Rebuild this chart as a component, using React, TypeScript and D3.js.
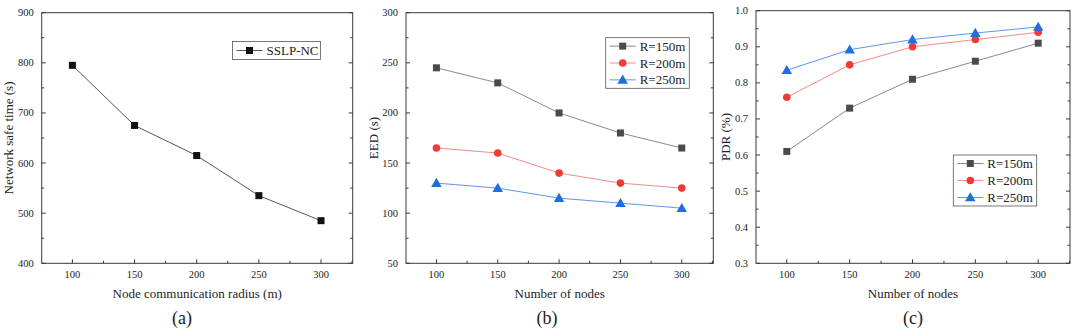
import React from "react";
import * as d3 from "d3";

const xValues = [100, 150, 200, 250, 300];
const xTicks = [100, 150, 200, 250, 300];

const safeTime = [795, 675, 615, 535, 485];
const safeTicks = [400, 500, 600, 700, 800, 900];

const eed150 = [245, 230, 200, 180, 165];
const eed200 = [165, 160, 140, 130, 125];
const eed250 = [130, 125, 115, 110, 105];
const eedTicks = [50, 100, 150, 200, 250, 300];

const pdr150 = [0.61, 0.73, 0.81, 0.86, 0.91];
const pdr200 = [0.76, 0.85, 0.9, 0.92, 0.94];
const pdr250 = [0.835, 0.892, 0.92, 0.938, 0.955];
const pdrTicks = [0.3, 0.4, 0.5, 0.6, 0.7, 0.8, 0.9, 1.0];

const seriesNames = ["R=150m", "R=200m", "R=250m"];

type Series = { name: string; values: number[]; marker: string; fill: string; line: string; size?: number };

const FONT = "'Liberation Serif', 'Times New Roman', serif";

function Marker({ type, x, y, fill, size = 7 }: { type: string; x: number; y: number; fill: string; size?: number }) {
  if (type === "square") return <rect x={x - size / 2} y={y - size / 2} width={size} height={size} fill={fill} />;
  if (type === "circle") return <circle cx={x} cy={y} r={size / 2 + 0.3} fill={fill} />;
  const p = d3.symbol(d3.symbolTriangle, size * size * 0.75)();
  return <path d={p || ""} transform={`translate(${x},${y + 0.8})`} fill={fill} />;
}

function Panel(props: {
  left: number; right: number; top: number; bottom: number;
  xDomain: [number, number]; yDomain: [number, number];
  yTicks: number[]; yFmt: (v: number) => string;
  series: Series[]; xTitle: string; yTitle: string; yTitleX: number; label: string; labelX: number;
  legend: { x: number; y: number; w: number; h: number };
}) {
  const { left, right, top, bottom, xDomain, yDomain, yTicks, yFmt, series, xTitle, yTitle, yTitleX, label, labelX, legend } = props;
  const x = d3.scaleLinear().domain(xDomain).range([left, right]);
  const y = d3.scaleLinear().domain(yDomain).range([bottom, top]);
  const xMinor = d3.range(xTicks[0] - 25, xTicks[xTicks.length - 1] + 26, 50).filter((v) => v > xDomain[0] && v < xDomain[1]);
  const yStep = yTicks[1] - yTicks[0];
  const yMinor = yTicks.slice(0, -1).map((v) => v + yStep / 2);
  const frame = "#3a3a3a";
  const line = d3.line<number>().x((_, i) => x(xValues[i])).y((v) => y(v));
  const rowH = legend.h / series.length;
  return (
    <g>
      {series.map((s) => (
        <path key={s.name + "l"} d={line(s.values) || ""} fill="none" stroke={s.line} strokeWidth={1} />
      ))}
      {series.map((s) =>
        s.values.map((v, i) => (
          <Marker key={s.name + i} type={s.marker} x={x(xValues[i])} y={y(v)} fill={s.fill} size={s.size} />
        ))
      )}
      <rect x={left} y={top} width={right - left} height={bottom - top} fill="none" stroke={frame} strokeWidth={1} />
      {xTicks.map((t) => (
        <g key={"xt" + t}>
          <line x1={x(t)} x2={x(t)} y1={bottom} y2={bottom - 4} stroke={frame} />
          <text x={x(t)} y={bottom + 15} textAnchor="middle" fontSize={10.5} fontFamily={FONT} fill="#222">{t}</text>
        </g>
      ))}
      {xMinor.map((t) => (
        <line key={"xm" + t} x1={x(t)} x2={x(t)} y1={bottom} y2={bottom - 2.5} stroke={frame} />
      ))}
      {yTicks.map((t) => (
        <g key={"yt" + t}>
          <line x1={left} x2={left + 4} y1={y(t)} y2={y(t)} stroke={frame} />
          <line x1={right} x2={right - 4} y1={y(t)} y2={y(t)} stroke={frame} />
          <text x={left - 8} y={y(t) + 3.5} textAnchor="end" fontSize={10.5} fontFamily={FONT} fill="#222">{yFmt(t)}</text>
        </g>
      ))}
      {yMinor.map((t) => (
        <g key={"ym" + t}>
          <line x1={left} x2={left + 2.5} y1={y(t)} y2={y(t)} stroke={frame} />
          <line x1={right} x2={right - 2.5} y1={y(t)} y2={y(t)} stroke={frame} />
        </g>
      ))}
      <text x={(left + right) / 2} y={298} textAnchor="middle" fontSize={13} fontFamily={FONT} fill="#222">{xTitle}</text>
      <text transform={`translate(${yTitleX},${(top + bottom) / 2}) rotate(-90)`} textAnchor="middle" fontSize={13} fontFamily={FONT} fill="#222">{yTitle}</text>
      <text x={labelX} y={324} textAnchor="middle" fontSize={18} fontFamily={FONT} fill="#222">{label}</text>
      <rect x={legend.x} y={legend.y} width={legend.w} height={legend.h} fill="white" stroke="#555" strokeWidth={0.8} />
      {series.map((s, i) => {
        const cy = legend.y + rowH * (i + 0.5);
        return (
          <g key={"lg" + s.name}>
            <line x1={legend.x + 4} x2={legend.x + 30} y1={cy} y2={cy} stroke={s.line} strokeWidth={1} />
            <Marker type={s.marker} x={legend.x + 17} y={cy} fill={s.fill} size={s.size} />
            <text x={legend.x + 34} y={cy + 4.5} fontSize={13} fontFamily={FONT} fill="#222">{s.name}</text>
          </g>
        );
      })}
    </g>
  );
}

export default function App() {
  const grey = { marker: "square", fill: "#4a4a4a", line: "#8a8a8a" };
  const red = { marker: "circle", fill: "#f03a3a", line: "#f58a8a" };
  const blue = { marker: "triangle", fill: "#1f6fe0", line: "#5a98ec", size: 8 };
  const fmt1 = d3.format(".1f");
  return (
    <svg width={1080} height={335} style={{ position: "absolute", left: 0, top: 0, background: "white" }}>
      <Panel
        left={41.7} right={352.7} top={12.7} bottom={263.3}
        xDomain={[75.3, 325.5]} yDomain={[400, 900]} yTicks={safeTicks} yFmt={(v) => String(v)}
        series={[{ name: "SSLP-NC", values: safeTime, marker: "square", fill: "#111", line: "#555" }]}
        xTitle="Node communication radius (m)" yTitle="Network safe time (s)" yTitleX={13}
        label="(a)" labelX={182}
        legend={{ x: 232.5, y: 41.5, w: 88, h: 18 }}
      />
      <Panel
        left={406} right={713.3} top={12.7} bottom={263.3}
        xDomain={[75.2, 325.7]} yDomain={[50, 300]} yTicks={eedTicks} yFmt={(v) => String(v)}
        series={[
          { name: seriesNames[0], values: eed150, ...grey },
          { name: seriesNames[1], values: eed200, ...red },
          { name: seriesNames[2], values: eed250, ...blue },
        ]}
        xTitle="Number of nodes" yTitle="EED (s)" yTitleX={378}
        label="(b)" labelX={547}
        legend={{ x: 605.7, y: 37.7, w: 83.6, h: 50.6 }}
      />
      <Panel
        left={756} right={1070} top={10.7} bottom={263.3}
        xDomain={[75.5, 325.3]} yDomain={[0.3, 1.0]} yTicks={pdrTicks} yFmt={fmt1}
        series={[
          { name: seriesNames[0], values: pdr150, ...grey },
          { name: seriesNames[1], values: pdr200, ...red },
          { name: seriesNames[2], values: pdr250, ...blue },
        ]}
        xTitle="Number of nodes" yTitle="PDR (%)" yTitleX={730}
        label="(c)" labelX={913}
        legend={{ x: 953.3, y: 155, w: 83.4, h: 51 }}
      />
    </svg>
  );
}
